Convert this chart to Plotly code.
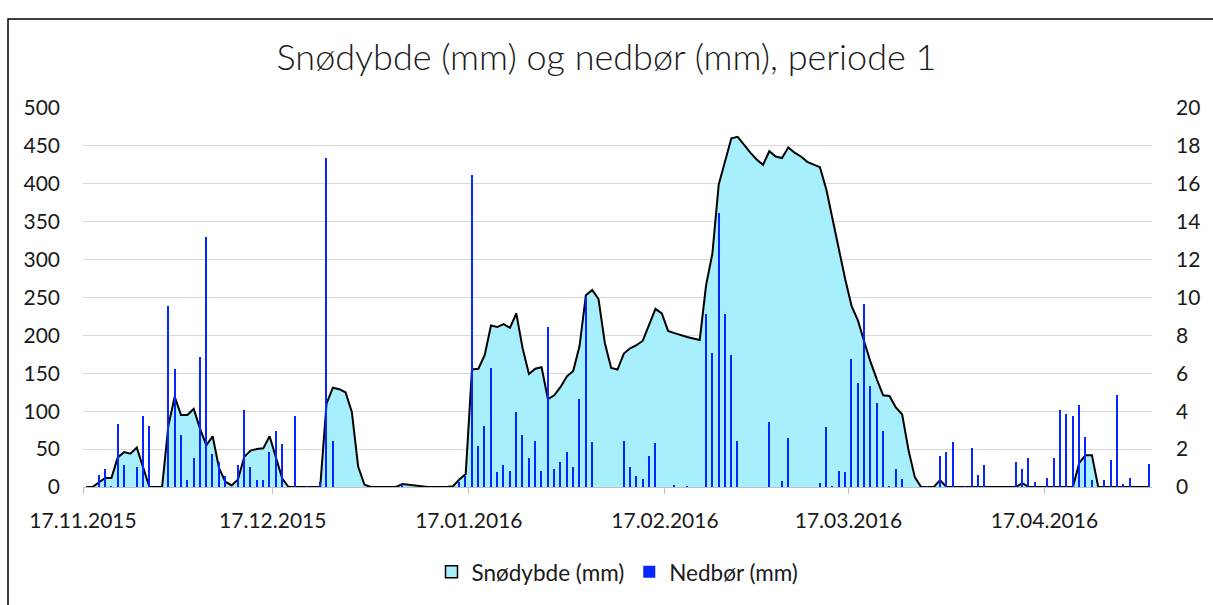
import plotly.graph_objects as go
import pandas as pd

# ---------------- data ----------------
start_date = "2015-11-17"
n_days = 169

snow_mm = [
    0, 0, 6, 12, 12, 39, 46, 44, 52, 25,
    0, 0, 0, 81, 119, 95, 95, 103, 77, 55,
    67, 25, 7, 2, 10, 40, 48, 50, 51, 67,
    39, 11, 0, 0, 0, 0, 0, 0, 110, 131,
    129, 125, 99, 27, 3, 0, 0, 0, 0, 0,
    4, 3, 2, 1, 0, 0, 0, 0, 1, 10,
    17, 155, 156, 174, 213, 211, 215, 210, 229, 183,
    149, 156, 158, 116, 121, 132, 146, 153, 186, 253,
    260, 248, 190, 157, 155, 176, 183, 187, 193, 214,
    235, 229, 206, 203, 200, 198, 196, 194, 266, 308,
    399, 429, 460, 462, 451, 441, 432, 425, 443, 436,
    434, 448, 441, 436, 429, 425, 422, 393, 353, 313,
    274, 239, 220, 192, 165, 142, 121, 120, 105, 96,
    49, 13, 0, 0, 0, 9, 0, 0, 0, 0,
    0, 0, 0, 0, 0, 0, 0, 0, 5, 0,
    0, 0, 0, 0, 0, 0, 0, 32, 42, 42,
    0, 0, 0, 0, 0, 0, 0, 0, 0,
]

precip_mm = [
    0, 0, 0.65, 0.94, 0.03, 3.32, 1.14, 0, 1.05, 3.74,
    3.23, 0, 0, 9.56, 6.25, 2.75, 0.35, 1.55, 6.87, 13.17,
    1.75, 1.33, 0.56, 0, 1.14, 4.05, 1.06, 0.35, 0.35, 1.87,
    2.96, 2.25, 0, 3.74, 0, 0.03, 0, 0.24, 17.38, 2.45,
    0, 0, 0, 0, 0, 0, 0, 0, 0, 0,
    0.15, 0, 0, 0, 0, 0, 0, 0, 0, 0.24,
    0.56, 16.46, 2.16, 3.23, 6.26, 0.77, 1.14, 0.85, 3.96, 2.75,
    1.55, 2.45, 0.85, 8.46, 0.95, 1.34, 1.85, 1.05, 4.65, 10.05,
    2.35, 0, 0, 0, 0, 2.44, 1.05, 0.56, 0.44, 1.65,
    2.34, 0, 0, 0.12, 0, 0.03, 0, 0, 9.15, 7.05,
    14.47, 9.15, 6.96, 2.44, 0, 0, 0, 0, 3.44, 0,
    0.33, 2.56, 0, 0, 0, 0, 0.22, 3.17, 0.03, 0.85,
    0.77, 6.75, 5.47, 9.66, 5.35, 4.45, 2.96, 0.03, 0.96, 0.44,
    0, 0, 0, 0.03, 0, 1.66, 1.87, 2.35, 0, 0.03,
    2.07, 0.65, 1.15, 0, 0, 0, 0, 1.34, 0.95, 1.55,
    0.24, 0, 0.45, 1.55, 4.05, 3.84, 3.75, 4.34, 2.65, 0.35,
    0, 0.35, 1.45, 4.85, 0.14, 0.45, 0, 0, 1.24,
]

tick_dates = ["2015-11-17", "2015-12-17", "2016-01-17",
              "2016-02-17", "2016-03-17", "2016-04-17"]
tick_labels = ["17.11.2015", "17.12.2015", "17.01.2016",
               "17.02.2016", "17.03.2016", "17.04.2016"]

title_text = "Snødybde (mm) og nedbør (mm), periode 1"
snow_name = "Snødybde (mm)"
precip_name = "Nedbør (mm)"

# ---------------- figure ----------------
days = pd.date_range(start_date, periods=n_days, freq="D") + pd.Timedelta(hours=12)
x_end = pd.Timestamp(start_date) + pd.Timedelta(days=n_days)

FONT = "Lato, 'Open Sans', sans-serif"
SNOW_FILL = "#A7EFFC"
BLUE = "#0626FF"

fig = go.Figure()

fig.add_trace(go.Scatter(
    x=days, y=snow_mm, mode="lines", fill="tozeroy",
    fillcolor=SNOW_FILL, line=dict(color="black", width=2),
    name=snow_name, showlegend=False, yaxis="y",
))

fig.add_trace(go.Scatter(
    x=[None], y=[None], mode="markers", name=snow_name,
    marker=dict(symbol="square", size=12, color=SNOW_FILL,
                line=dict(color="black", width=1.5)),
    showlegend=True, yaxis="y",
))

fig.add_trace(go.Bar(
    x=days, y=precip_mm, name=precip_name, marker_color=BLUE,
    marker_line_width=0, width=0.22 * 86400000, yaxis="y2",
))

L, R, T, B = 83, 61, 108, 114
W, H = 1213, 605
pw = W - L - R
ph = H - T - B

fig.update_layout(
    width=W, height=H,
    margin=dict(l=L, r=R, t=T, b=B, pad=0),
    paper_bgcolor="white", plot_bgcolor="white",
    font=dict(family=FONT, size=21, color="#1a1a1a"),
    title=dict(text=title_text, x=0.5, xanchor="center",
               y=1 - 57 / H, yanchor="middle",
               font=dict(family=FONT, size=36, color="#1a1a1a", weight=300)),
    xaxis=dict(
        type="date", range=[pd.Timestamp(start_date), x_end],
        tickvals=tick_dates, ticktext=tick_labels,
        ticks="outside", ticklen=6, tickcolor="#bfbfbf", tickwidth=1,
        showline=True, linecolor="#bfbfbf", linewidth=1.3,
        showgrid=False, zeroline=False,
        tickfont=dict(size=21), ticklabelstandoff=9,
    ),
    yaxis=dict(
        range=[0, 500], dtick=50, showgrid=True, gridcolor="#d9d9d9",
        gridwidth=1.3, zeroline=False, showline=False,
        tickfont=dict(size=21), ticklabelstandoff=22,
    ),
    yaxis2=dict(
        range=[0, 20], dtick=2, overlaying="y", side="right",
        showgrid=False, zeroline=False, showline=False,
        tickfont=dict(size=21), ticklabelstandoff=23,
    ),
    legend=dict(orientation="h", x=0.5, xanchor="center",
                y=(ph - (577 - T)) / ph, yanchor="middle",
                font=dict(size=22.5), itemwidth=30,
                traceorder="normal", bgcolor="rgba(0,0,0,0)"),
    bargap=0,
    showlegend=True,
)

# chart border (outer frame of the embedded chart; right/bottom edges lie outside the view)
fig.add_shape(type="rect", xref="paper", yref="paper",
              x0=(8 - L) / pw, x1=(W + 60 - L) / pw,
              y0=(ph - (H + 60 - T)) / ph, y1=(ph - (18 - T)) / ph,
              line=dict(color="black", width=1.5), fillcolor="rgba(0,0,0,0)",
              layer="above")

fig.write_html("out.html", config={"displayModeBar": False},
               post_script="document.body.style.margin='0';")
